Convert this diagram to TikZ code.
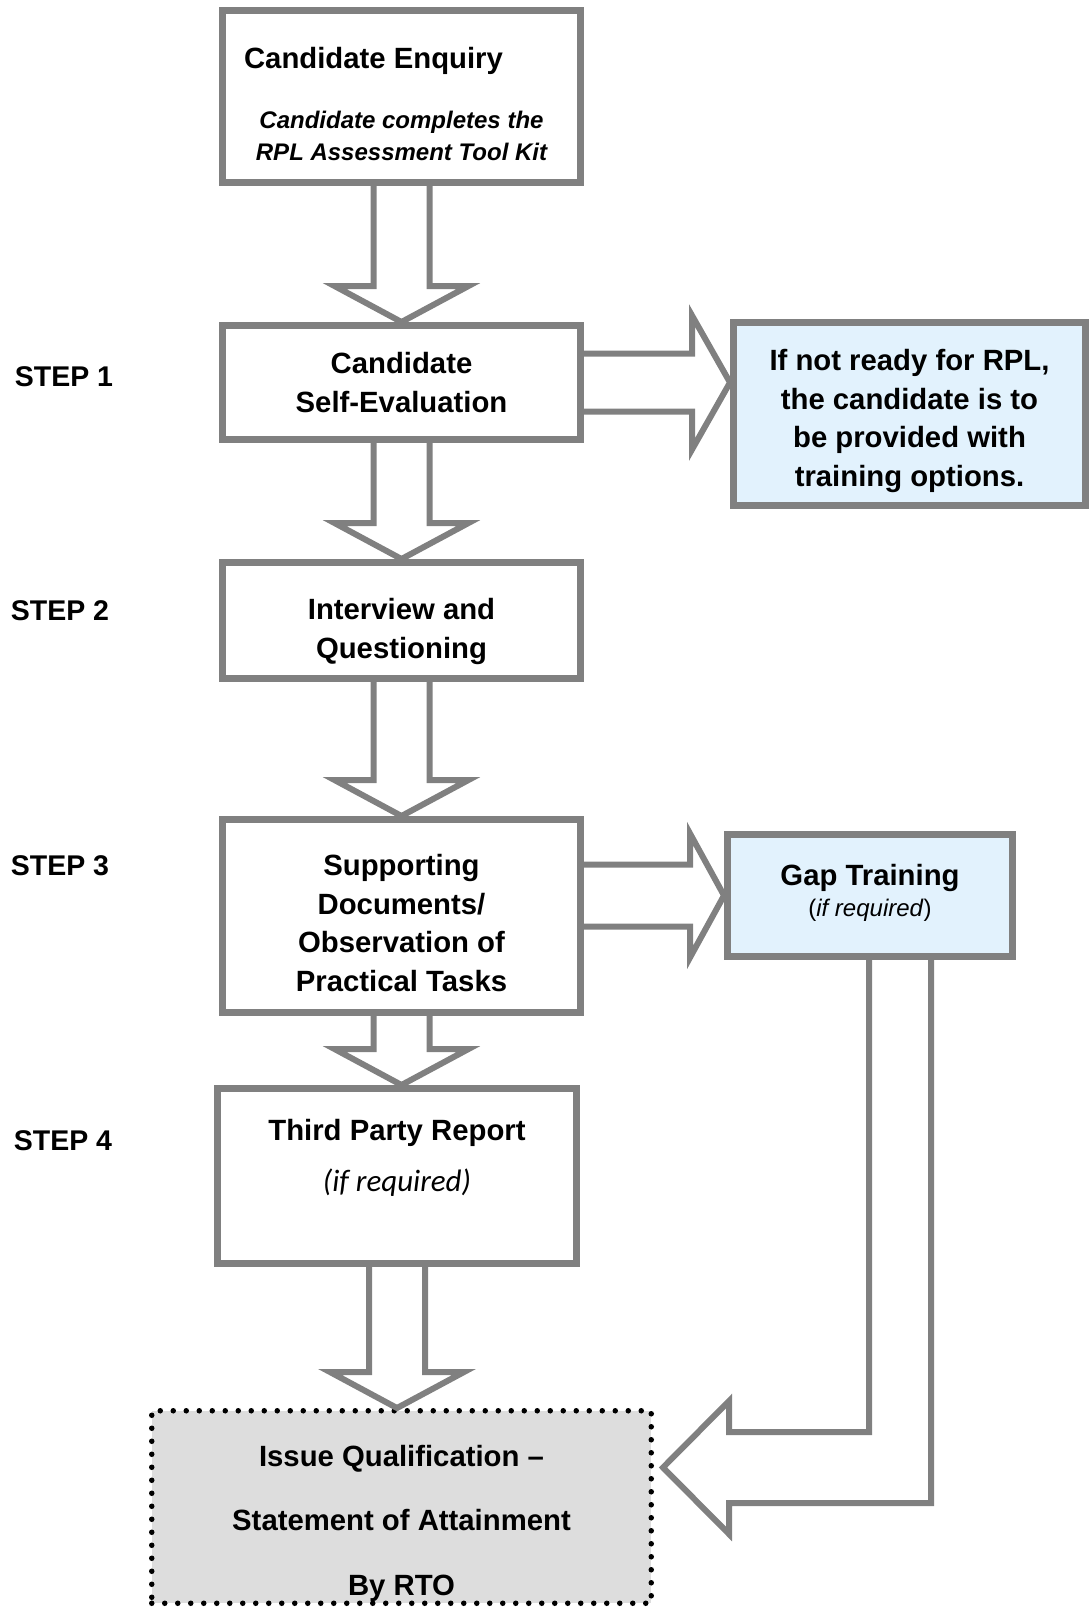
\documentclass[tikz,border=0pt]{standalone}
\usepackage{fontspec}
\setmainfont{Liberation Sans}
\newfontfamily\carlito{Carlito}
\usetikzlibrary{positioning, calc}
\definecolor{linegray}{RGB}{128, 128, 128}
\definecolor{paleblue}{RGB}{226, 242, 253}
\definecolor{palegray}{RGB}{221, 221, 221}

\begin{document}
\begin{tikzpicture}[
    x=1pt, y=-1pt,
    stepbox/.style={rectangle, draw=linegray, line width=7pt, fill=white,
                minimum width=358pt, inner sep=0pt, align=center,
                font=\fontsize{29.3}{38.6}\selectfont\bfseries},
    sidebox/.style={stepbox, fill=paleblue},
    issuebox/.style={stepbox, draw=black, line width=5.5pt, fill=palegray,
                dash pattern=on 0pt off 13pt, line cap=round,
                font=\fontsize{29.3}{64.5}\selectfont\bfseries},
    steplabel/.style={font=\fontsize{28.5}{34}\selectfont\bfseries, inner sep=0pt},
    blockarrow/.style={draw=linegray, line width=6pt, line join=miter}
]
\useasboundingbox (0,0) rectangle (1090,1609);
\node[stepbox, minimum height=172pt] (enquiry) at (401.5,96.5)
    {\rule{0pt}{36.6pt}\hspace*{-56pt}Candidate Enquiry\\[21pt]
     {\fontsize{24}{32}\selectfont\itshape Candidate completes the}\\[-6.6pt]
     {\fontsize{24}{32}\selectfont\itshape RPL Assessment Tool Kit}};
\node[stepbox, minimum height=114pt, below=136pt of enquiry] (selfeval) {Candidate\\Self-Evaluation};
\node[stepbox, minimum height=116pt, below=116pt of selfeval] (interview) {\rule{0pt}{43.2pt}Interview and\\Questioning};
\node[stepbox, minimum height=193pt, below=134pt of interview] (supporting)
    {\rule{0pt}{35.4pt}Supporting\\Documents/\\Observation of\\Practical Tasks};
\node[stepbox, minimum width=359pt, minimum height=175pt, below=69pt of supporting, xshift=-4.5pt] (thirdparty)
    {Third Party Report\\[12.4pt]{\carlito\mdseries\itshape\fontsize{31}{38}\selectfont (if required)\rule[-42pt]{0pt}{0pt}}};
\node[issuebox, minimum width=499.5pt, minimum height=192.5pt, below=141pt of thirdparty, xshift=4.5pt] (issue)
    {\rule{0pt}{53.4pt}Issue Qualification --\\Statement of Attainment\\By RTO};
\node[sidebox, minimum width=352pt, minimum height=183pt] (readiness) at (909.5,414)
    {\rule{0pt}{35pt}If not ready for RPL,\\the candidate is to\\be provided with\\training options.};
\node[sidebox, minimum width=285pt, minimum height=122pt] (gaptraining) at (870,895.5)
    {Gap Training\\[-8.4pt]{\mdseries\fontsize{24}{30}\selectfont(\textit{if required})\rule[-10.2pt]{0pt}{0pt}}};

% step labels
\node[steplabel] (step1) at (64,377) {STEP 1};
\node[steplabel] (step2) at (60,611) {STEP 2};
\node[steplabel] (step3) at (60,866) {STEP 3};
\node[steplabel] (step4) at (63,1141) {STEP 4};

% block arrows down the main column
\foreach \from/\to in {enquiry/selfeval, selfeval/interview, interview/supporting,
                       supporting/thirdparty, thirdparty/issue}
  \draw[blockarrow] ($(\from.south)+(-28,0)$) -- ($(\from.south |- \to.north)+(-28,-36)$) -- ++(-39,0)
    -- (\from.south |- \to.north) -- ++(67,-36) -- ++(-39,0) -- ($(\from.south)+(28,0)$);

% side arrows
\draw[blockarrow] ($(selfeval.east)+(0,-29)$) -- ($(readiness.west |- selfeval.east)+(-38,-29)$) -- ++(0,-38)
    -- (readiness.west |- selfeval.east) -- ++(-38,67) -- ++(0,-38) -- ($(selfeval.east)+(0,29)$);
\draw[blockarrow] ($(supporting.east |- gaptraining.west)+(0,-31)$) -- ($(gaptraining.west)+(-34,-31)$) -- ++(0,-31)
    -- (gaptraining.west) -- ++(-34,62) -- ++(0,-31) -- ($(supporting.east |- gaptraining.west)+(0,31)$);

% return arrow from gap training
\coordinate (rettip) at ($(issue.east)+(9,-39.5)$);
\draw[blockarrow] ($(gaptraining.south)+(-1,0)$) |- ($(rettip)+(66,-35.5)$) -- ++(0,-31)
    -- (rettip) -- ($(rettip)+(66,66.5)$) -- ++(0,-31) -| ($(gaptraining.south)+(61,0)$);
\end{tikzpicture}
\end{document}
